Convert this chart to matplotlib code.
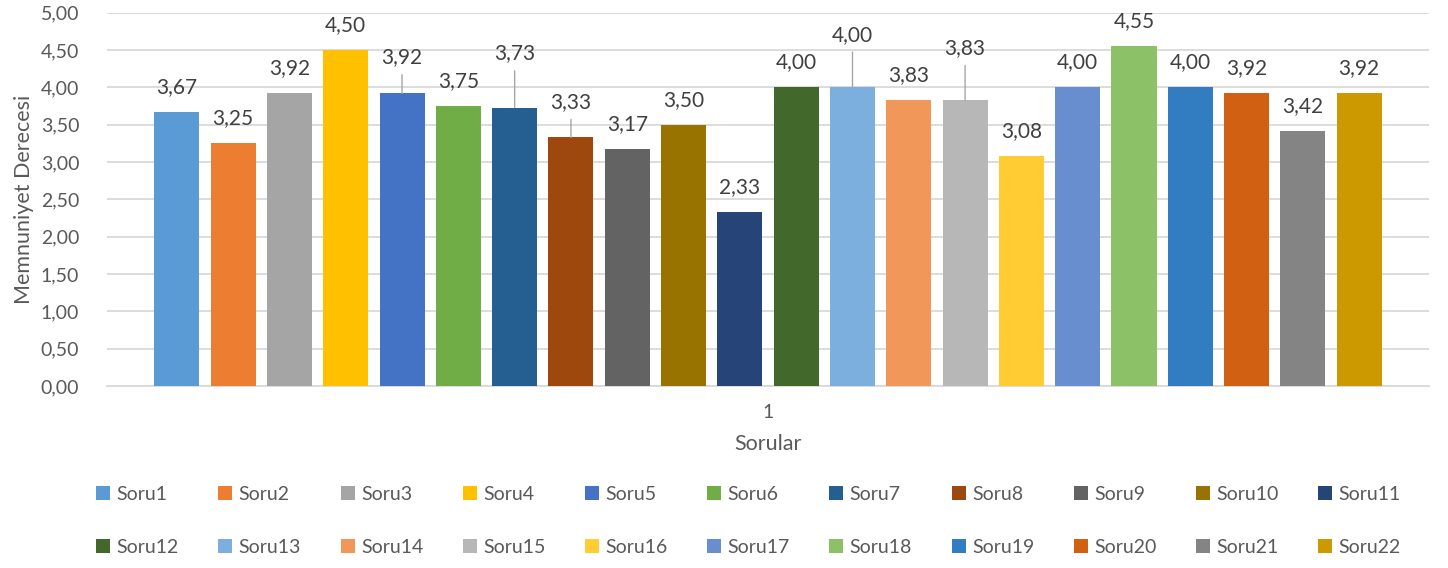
import matplotlib
matplotlib.use("Agg")
from matplotlib import pyplot as plt
from matplotlib.ticker import FuncFormatter
import numpy as np

series = ["Soru%d" % (i + 1) for i in range(22)]
scores = [3.67, 3.25, 3.92, 4.50, 3.92, 3.75, 3.73, 3.33, 3.17, 3.50, 2.33,
          4.00, 4.00, 3.83, 3.83, 3.08, 4.00, 4.55, 4.00, 3.92, 3.42, 3.92]
colors = ["#5B9BD5", "#ED7D31", "#A5A5A5", "#FFC000", "#4472C4", "#70AD47",
          "#255E91", "#9E480E", "#636363", "#997300", "#264478", "#43682B",
          "#7CAFDD", "#F1975A", "#B7B7B7", "#FFCD33", "#698ED0", "#8CC168",
          "#327DC2", "#D26012", "#848484", "#CC9A00"]
category = "1"

# labels that Excel pushed up and joined with a leader line (offset in points)
moved = {4: 26, 6: 39, 7: 25.5, 12: 38, 14: 37.5}

plt.rcParams["font.family"] = ["Lato", "DejaVu Sans"]
text_col = "#595959"
grid_col = "#D9D9D9"

fig = plt.figure(figsize=(14.48, 5.68), dpi=100)
ax = fig.add_axes([0.0739, 0.3204, 0.913, 0.657])

n = len(series)
x = np.arange(n)
bars = []
for i in range(n):
    b = ax.bar(x[i], scores[i], width=0.8, color=colors[i], label=series[i], zorder=3)
    bars.append(b[0])

for i in range(n):
    v = scores[i]
    lbl = ("%.2f" % v).replace(".", ",")
    off = moved.get(i, 18)
    ax.annotate(lbl, (x[i], v), xytext=(0, off), textcoords="offset points",
                ha="center", va="center", fontsize=15, color="#404040", zorder=5)
    if i in moved:
        ax.annotate("", (x[i], v), xytext=(0, off - 12.5), textcoords="offset points",
                    arrowprops=dict(arrowstyle="-", color="#A6A6A6", lw=1.0,
                                    shrinkA=0, shrinkB=0), zorder=4)

ax.set_xlim(10.5 - 11.74, 10.5 + 11.74)
ax.set_ylim(0, 5)
ax.set_yticks(np.arange(0, 5.01, 0.5))
ax.yaxis.set_major_formatter(FuncFormatter(lambda v, p: ("%.2f" % v).replace(".", ",")))
ax.set_xticks([10.5])
ax.set_xticklabels([category])
ax.tick_params(axis="both", length=0, labelsize=14, labelcolor=text_col)
ax.tick_params(axis="x", pad=13)
ax.tick_params(axis="y", pad=20)
ax.grid(axis="y", color=grid_col, lw=1.3, zorder=0)
for s in ["top", "right", "left"]:
    ax.spines[s].set_visible(False)
ax.spines["bottom"].set_color(grid_col)
ax.spines["bottom"].set_linewidth(1.3)

ax.set_ylabel("Memnuniyet Derecesi", fontsize=15.5, color=text_col, labelpad=5)
ax.set_xlabel("Sorular", fontsize=15.5, color=text_col, labelpad=9)

# legend fills by column, reorder so it reads row by row like Excel
half = n // 2
order = [j for k in range(half) for j in (k, k + half)]
fig.legend(handles=[bars[j] for j in order], labels=[series[j] for j in order],
           ncol=11, loc="upper center", bbox_to_anchor=(0.517, 0.176), frameon=False,
           fontsize=14, labelcolor=text_col, handlelength=0.72, handleheight=0.72,
           handletextpad=0.33, columnspacing=2.03, labelspacing=1.85)

fig.savefig("out.png", dpi=100)
